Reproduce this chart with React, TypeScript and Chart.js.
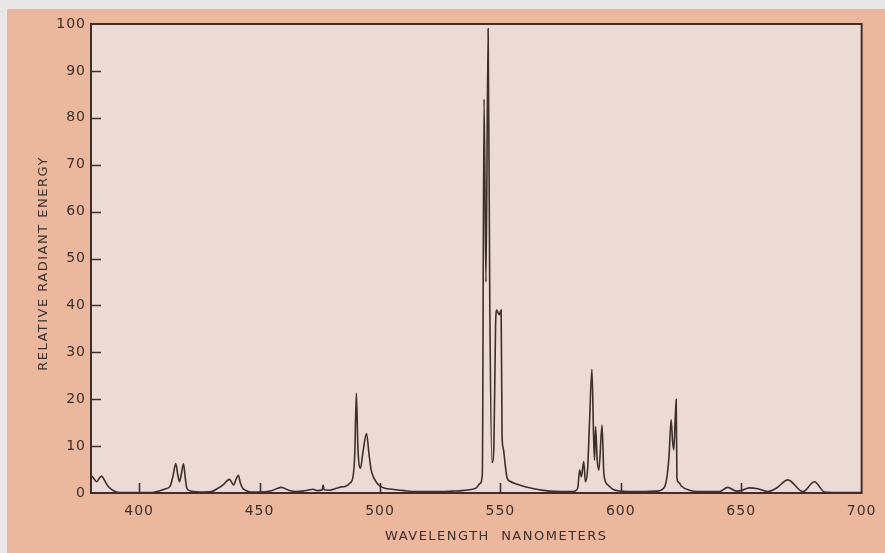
import React, { useEffect, useRef } from "react";
import { Chart, registerables } from "chart.js";

Chart.register(...registerables);

// Wavelength (nm) of each sampled point of the spectrum
const WAVELENGTHS = [
  380, 381, 382.4, 383.5, 384.4, 385.5, 387, 388, 390, 392, 395, 400, 405,
  408.6, 411, 412.8, 414, 415.2, 416, 416.7, 417.5, 418.4, 419.2, 419.8, 421, 422.5, 425,
  430, 432.7, 435, 437.5, 438.5, 439.2, 440.3, 441.2, 442, 443, 444.5, 446.5,
  450, 455, 459, 462, 465, 468, 470, 472.2, 474, 476, 476.4, 476.8, 479, 482, 484, 485.5,
  487.5, 488.8, 489.5, 490.2, 490.8, 491.9, 493, 494.4, 495.5, 496.3, 497.2, 498.5, 499.9,
  502, 505, 510, 515, 520, 525, 530, 534, 537, 540, 541.5, 542.5,
  543.2, 544, 544.9, 545.6, 546.5, 547.3, 548, 548.5, 549.5, 550.3, 550.7, 551.2, 552, 552.8,
  554, 556, 560.7, 565, 570.5, 575, 580, 581.5, 582.2, 582.9, 583.6, 584.6, 585.3, 586.2,
  587, 588, 588.7, 589.1, 589.5, 590.2, 590.9, 592.2, 593, 594.7, 596.7, 600, 605, 610,
  615, 618.2, 619.3, 620, 620.9, 621.5, 622, 623, 623.3, 624.2, 625.1, 628.5, 632, 635,
  641, 644.4, 648, 650, 653.4, 656.9, 661, 664.5, 669.4, 675.6, 680.4, 684.6, 690, 700,
];

// Relative radiant energy at each wavelength above
const ENERGY = [
  3.8, 3.2, 2.4, 3.2, 3.6, 2.8, 1.5, 1.0, 0.3, 0.1, 0.1, 0.1, 0.1,
  0.5, 0.9, 1.4, 3.5, 6.3, 4, 2.4, 4, 6.2, 3, 1.0, 0.5, 0.3, 0.2,
  0.3, 1.0, 1.8, 2.9, 2.2, 1.7, 3, 3.8, 2.2, 1.0, 0.5, 0.2,
  0.2, 0.5, 1.2, 0.6, 0.3, 0.4, 0.6, 0.8, 0.5, 0.7, 1.7, 0.7, 0.6, 1.0, 1.3, 1.4,
  2.1, 3.5, 8, 21.3, 10, 5.3, 9, 12.7, 8, 5, 3.5, 2.3, 1.5,
  1.0, 0.8, 0.5, 0.3, 0.3, 0.3, 0.4, 0.5, 0.7, 1.1, 2, 4,
  84, 45, 99, 40, 6.5, 10, 36, 39, 38, 39, 12, 9.5, 6, 3.2,
  2.5, 2, 1.3, 0.8, 0.4, 0.3, 0.3, 0.6, 1.3, 4.9, 3.5, 6.7, 2.4, 5,
  15, 26.4, 12, 7.0, 14.1, 7, 4.9, 14.5, 3.8, 1.7, 0.8, 0.4, 0.3, 0.3,
  0.4, 1.3, 4, 7.7, 15.6, 11, 9.2, 20.0, 3.1, 2.2, 1.5, 0.6, 0.3, 0.3,
  0.3, 1.2, 0.4, 0.5, 1.1, 0.9, 0.3, 1.0, 2.8, 0.3, 2.4, 0.2, 0.1, 0.1,
];

const X_TICKS = [400, 450, 500, 550, 600, 650, 700];
const Y_TICKS = [0, 10, 20, 30, 40, 50, 60, 70, 80, 90, 100];
const X_MARKS = [400, 450, 500, 550, 600, 650];
const Y_MARKS = [10, 20, 30, 40, 50, 60, 70, 80, 90];
const X_TITLE = "WAVELENGTH  NANOMETERS";
const Y_TITLE = "RELATIVE RADIANT ENERGY";

const INK = "#3d2f2b";
const PLOT_BG = "#ecdbd4";
const FONT = "'DejaVu Sans', sans-serif";

const framePlugin = {
  id: "frame",
  beforeDraw(chart: any) {
    const { ctx, chartArea } = chart;
    ctx.letterSpacing = "1px";
    ctx.save();
    ctx.fillStyle = PLOT_BG;
    ctx.fillRect(chartArea.left, chartArea.top, chartArea.right - chartArea.left, chartArea.bottom - chartArea.top);
    ctx.restore();
  },
  afterDraw(chart: any) {
    const { ctx, chartArea, scales } = chart;
    const { left, right, top, bottom } = chartArea;
    ctx.save();
    ctx.strokeStyle = INK;
    ctx.lineWidth = 2;
    ctx.strokeRect(left, top, right - left, bottom - top);
    ctx.lineWidth = 1.6;
    ctx.beginPath();
    for (const v of Y_MARKS) {
      const py = Math.round(scales.y.getPixelForValue(v)) + 0.5;
      ctx.moveTo(left, py);
      ctx.lineTo(left + 10, py);
    }
    for (const v of X_MARKS) {
      const px = Math.round(scales.x.getPixelForValue(v)) + 0.5;
      ctx.moveTo(px, bottom);
      ctx.lineTo(px, bottom - 10);
    }
    ctx.stroke();

    ctx.fillStyle = INK;
    ctx.font = `13px ${FONT}`;
    ctx.letterSpacing = "1.5px";
    ctx.textAlign = "center";
    ctx.textBaseline = "middle";
    ctx.fillText(X_TITLE, (left + right) / 2 + 20, 537);
    ctx.translate(44, (top + bottom) / 2 + 5);
    ctx.rotate(-Math.PI / 2);
    ctx.fillText(Y_TITLE, 0, 0);
    ctx.restore();
  },
};

export default function App() {
  const ref = useRef<HTMLCanvasElement | null>(null);

  useEffect(() => {
    document.body.style.margin = "0";
    const canvas = ref.current;
    if (!canvas) return;
    const data = WAVELENGTHS.map((x, i) => ({ x, y: ENERGY[i] }));
    const chart = new Chart(canvas, {
      type: "line",
      data: {
        datasets: [
          {
            data,
            borderColor: INK,
            borderWidth: 1.6,
            pointRadius: 0,
            fill: false,
            cubicInterpolationMode: "monotone",
          },
        ],
      },
      options: {
        animation: false,
        responsive: false,
        events: [],
        layout: { padding: { left: 0, top: 24, right: 23, bottom: 0 } },
        plugins: { legend: { display: false }, tooltip: { enabled: false } },
        scales: {
          x: {
            type: "linear",
            min: 380,
            max: 700,
            afterBuildTicks: (s: any) => {
              s.ticks = X_TICKS.map((value) => ({ value }));
            },
            afterFit: (s: any) => {
              s.height = 60;
            },
            grid: { display: false, drawTicks: false },
            border: { display: false },
            ticks: { color: INK, font: { family: FONT, size: 14 }, padding: 10, maxRotation: 0 },
          },
          y: {
            min: 0,
            max: 100,
            afterBuildTicks: (s: any) => {
              s.ticks = Y_TICKS.map((value) => ({ value }));
            },
            afterFit: (s: any) => {
              s.width = 91;
            },
            grid: { display: false, drawTicks: false },
            border: { display: false },
            ticks: { color: INK, font: { family: FONT, size: 14 }, padding: 5 },
          },
        },
      },
      plugins: [framePlugin],
    });
    return () => chart.destroy();
  }, []);

  return (
    <div style={{ position: "relative", width: 885, height: 553, background: "#e8e6e6", overflow: "hidden" }}>
      <div style={{ position: "absolute", left: 7, top: 9, right: 0, bottom: 0, background: "#ebb89d" }} />
      <canvas ref={ref} width={885} height={553} style={{ position: "absolute", left: 0, top: 0 }} />
    </div>
  );
}
